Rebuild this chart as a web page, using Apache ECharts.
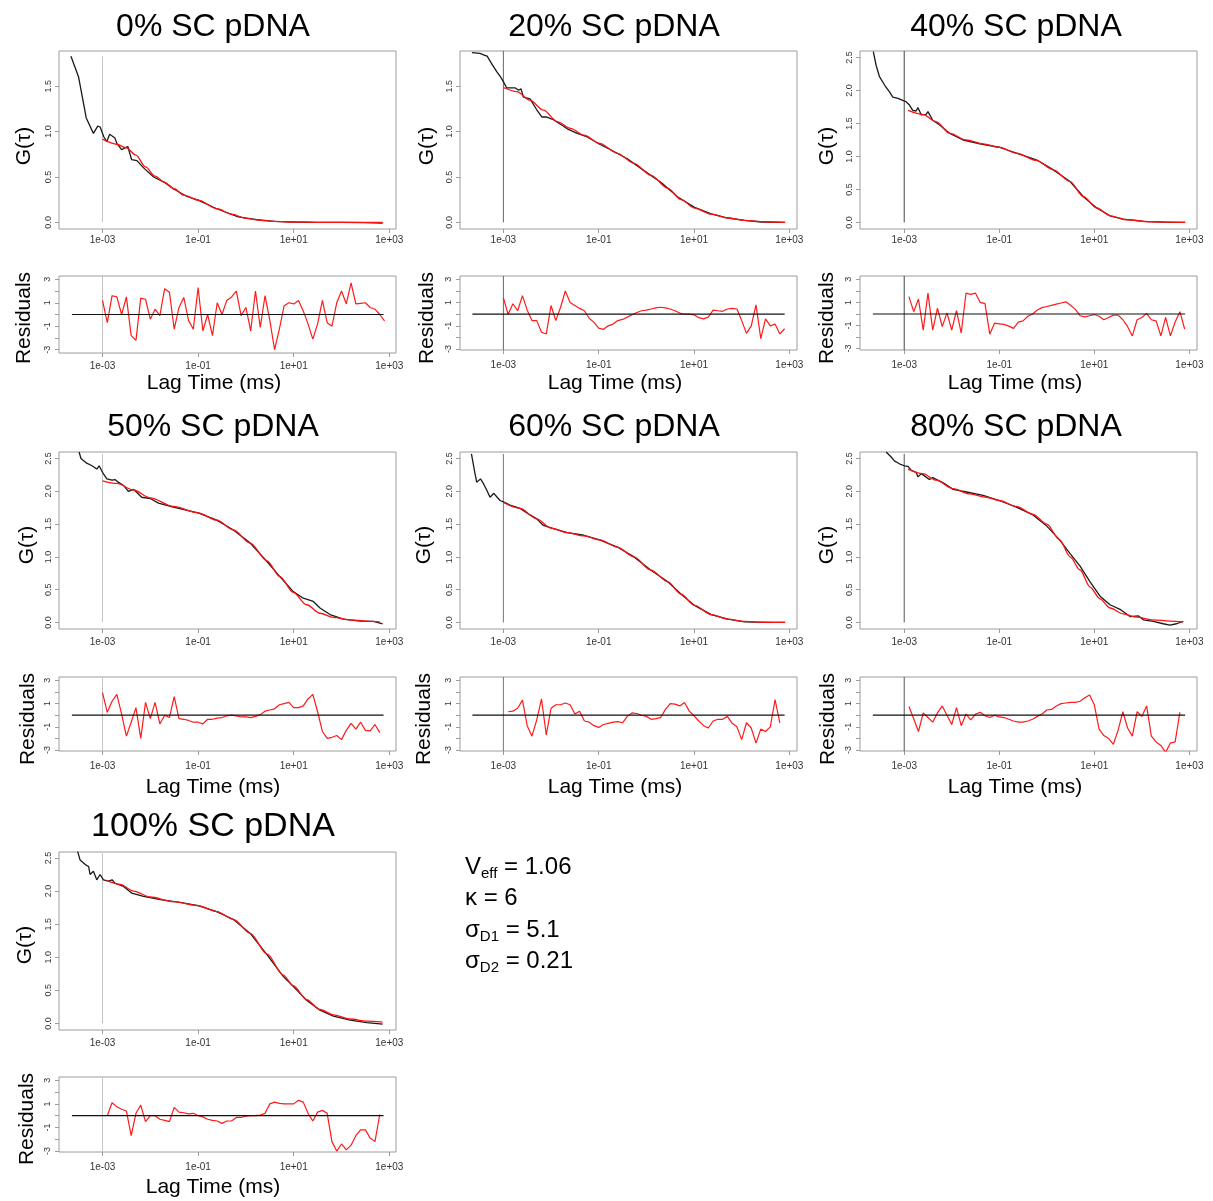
<!DOCTYPE html>
<html><head><meta charset="utf-8">
<script src="https://cdn.jsdelivr.net/npm/echarts@6/dist/echarts.min.js"></script>
<style>html,body{margin:0;padding:0;background:#fff}#c{width:1213px;height:1201px}</style>
</head><body><div id="c"></div>
<script>
const FONT = '"Liberation Sans", Arial, Helvetica, sans-serif';

// ---------- DATA ----------
const panelTitles = ['0% SC pDNA','20% SC pDNA','40% SC pDNA','50% SC pDNA','60% SC pDNA','80% SC pDNA','100% SC pDNA'];
const xTickExp = [-3,-1,1,3];            // log10 lag time of tick labels (1e-03 ... 1e+03)
const gTicksLow = [0,0.5,1,1.5];
const gTicksHigh = [0,0.5,1,1.5,2,2.5];
const residTicks = [-3,-2,-1,0,1,2,3];
const residLabels = [-3,-1,1,3];
const fitStartLag = -3;                  // vertical marker at 1e-03 ms
const vlineTop = [1.83,1.89,2.6,2.57,2.57,2.57,2.57];
const zeroStart = [-3.64,-3.65,-3.66,-3.64,-3.65,-3.66,-3.64];
const zeroEnd = [2.88,2.9,2.91,2.88,2.9,2.91,2.88];

// lag times are given as log10(ms)
const dataLag0 = [-3.66,-3.5,-3.34,-3.19,-3.1,-3.05,-2.97,-2.91,-2.85,-2.74,-2.7,-2.6,-2.53,-2.47,-2.39,-2.28,-2.14,-1.93,-1.7,-1.52,-1.25,-1.0,-0.61,-0.16,0.23,0.6,1.0,1.5,2.0,2.5,2.86];
const dataG0 = [1.83,1.6,1.15,0.98,1.06,1.05,0.94,0.89,0.97,0.93,0.87,0.8,0.82,0.835,0.69,0.68,0.6,0.5,0.44,0.37,0.29,0.245,0.15,0.06,0.03,0.012,0.004,0.001,0.0,-0.002,-0.007];
const fitLag0 = [-3.0,-2.7,-2.5,-2.3,-2.1,-1.9,-1.7,-1.5,-1.3,-1.0,-0.6,-0.3,0.0,0.3,0.6,1.0,1.5,2.0,2.5,2.86];
const fitG0 = [0.916,0.86,0.82,0.74,0.61,0.51,0.44,0.37,0.3,0.245,0.15,0.09,0.045,0.022,0.01,0.004,0.001,0,0,0];

const dataLag20 = [-3.66,-3.49,-3.39,-3.34,-3.25,-3.14,-3.07,-3.0,-2.93,-2.86,-2.75,-2.68,-2.63,-2.58,-2.44,-2.3,-2.19,-2.09,-1.95,-1.77,-1.66,-1.45,-1.24,-0.98,-0.75,-0.4,-0.05,0.31,0.66,1.01,1.36,1.71,2.06,2.41,2.91];
const dataG20 = [1.87,1.86,1.84,1.83,1.75,1.66,1.61,1.55,1.48,1.48,1.48,1.455,1.47,1.38,1.36,1.24,1.16,1.16,1.13,1.07,1.03,0.98,0.94,0.86,0.8,0.7,0.57,0.44,0.28,0.165,0.093,0.048,0.022,0.004,0.0];
const fitLag20 = [-3.0,-2.72,-2.44,-2.16,-1.87,-1.59,-1.31,-0.98,-0.61,-0.26,0.09,0.45,0.73,1.01,1.36,1.71,2.06,2.49,2.91];
const fitG20 = [1.485,1.44,1.345,1.235,1.11,1.035,0.96,0.87,0.76,0.65,0.52,0.375,0.25,0.157,0.091,0.048,0.022,0.007,0.0];

const dataLag40 = [-3.65,-3.59,-3.52,-3.41,-3.31,-3.24,-3.13,-3.03,-2.96,-2.89,-2.82,-2.75,-2.71,-2.64,-2.54,-2.5,-2.4,-2.26,-2.04,-1.76,-1.41,-1.0,-0.64,-0.22,0.13,0.49,0.77,1.05,1.33,1.61,2.03,2.45,2.91];
const dataG40 = [2.59,2.38,2.21,2.08,1.98,1.9,1.88,1.85,1.83,1.78,1.7,1.69,1.74,1.63,1.64,1.68,1.55,1.48,1.35,1.25,1.19,1.14,1.05,0.95,0.8,0.62,0.39,0.22,0.1,0.05,0.015,0.005,0.0];
const fitLag40 = [-2.92,-2.61,-2.33,-2.04,-1.69,-1.34,-1.0,-0.64,-0.22,0.13,0.49,0.77,1.05,1.33,1.68,2.17,2.91];
const fitG40 = [1.7,1.64,1.53,1.35,1.25,1.19,1.14,1.05,0.94,0.8,0.62,0.39,0.22,0.1,0.04,0.01,0.0];

const dataLag50 = [-3.49,-3.45,-3.33,-3.22,-3.12,-3.07,-3.0,-2.91,-2.8,-2.74,-2.67,-2.56,-2.46,-2.35,-2.18,-2.0,-1.83,-1.52,-1.0,-0.61,-0.26,0.09,0.44,0.71,0.99,1.2,1.41,1.55,1.76,2.04,2.39,2.67,2.86];
const dataG50 = [2.6,2.5,2.43,2.39,2.34,2.39,2.29,2.19,2.17,2.18,2.14,2.09,2.0,2.03,1.91,1.89,1.82,1.76,1.67,1.56,1.41,1.21,0.93,0.7,0.47,0.37,0.32,0.22,0.12,0.05,0.02,0.015,-0.02];
const fitLag50 = [-3.0,-2.7,-2.35,-2.0,-1.52,-1.0,-0.61,-0.26,0.09,0.44,0.71,0.99,1.27,1.55,1.83,2.18,2.53,2.8];
const fitG50 = [2.16,2.12,2.02,1.9,1.77,1.67,1.56,1.41,1.21,0.94,0.7,0.46,0.27,0.14,0.076,0.04,0.02,0.01];

const dataLag60 = [-3.67,-3.6,-3.56,-3.48,-3.42,-3.35,-3.28,-3.2,-3.13,-3.07,-3.0,-2.86,-2.65,-2.44,-2.3,-2.16,-1.95,-1.66,-1.31,-0.98,-0.61,-0.26,0.09,0.45,0.73,1.01,1.36,1.71,2.06,2.49,2.91];
const dataG60 = [2.57,2.29,2.14,2.19,2.12,2.02,1.91,1.97,1.91,1.86,1.84,1.79,1.74,1.64,1.58,1.48,1.43,1.37,1.33,1.26,1.15,1.0,0.8,0.62,0.43,0.26,0.12,0.05,0.01,0.0,0.0];
const fitLag60 = [-3.0,-2.65,-2.3,-2.0,-1.66,-1.31,-0.98,-0.61,-0.26,0.09,0.45,0.73,1.01,1.36,1.71,2.06,2.49,2.91];
const fitG60 = [1.83,1.74,1.58,1.44,1.37,1.32,1.26,1.15,1.0,0.8,0.62,0.43,0.26,0.12,0.05,0.015,0.003,0.0];

const dataLag80 = [-3.38,-3.27,-3.2,-3.1,-3.0,-2.92,-2.85,-2.75,-2.71,-2.64,-2.47,-2.4,-2.18,-1.97,-1.69,-1.34,-1.0,-0.64,-0.29,0.0,0.27,0.49,0.7,0.91,1.12,1.33,1.54,1.75,1.93,2.03,2.24,2.45,2.59,2.73,2.87];
const dataG80 = [2.6,2.52,2.46,2.42,2.39,2.38,2.32,2.29,2.22,2.27,2.18,2.21,2.13,2.03,1.99,1.94,1.86,1.76,1.64,1.47,1.26,1.05,0.86,0.62,0.4,0.27,0.2,0.09,0.1,0.04,0.015,-0.02,-0.04,-0.02,0.015];
const fitLag80 = [-2.92,-2.61,-2.33,-1.97,-1.62,-1.27,-1.0,-0.64,-0.29,0.0,0.27,0.49,0.7,0.91,1.12,1.33,1.61,1.89,2.24,2.59,2.87];
const fitG80 = [2.34,2.27,2.17,2.04,1.96,1.91,1.86,1.77,1.65,1.5,1.26,1.0,0.8,0.54,0.36,0.22,0.13,0.08,0.04,0.02,0.01];

const dataLag100 = [-3.52,-3.47,-3.36,-3.29,-3.26,-3.19,-3.12,-3.05,-2.98,-2.87,-2.8,-2.74,-2.56,-2.39,-2.14,-1.79,-1.38,-1.0,-0.61,-0.26,0.09,0.44,0.78,0.99,1.27,1.55,1.83,2.18,2.53,2.86];
const dataG100 = [2.6,2.47,2.4,2.37,2.25,2.3,2.17,2.25,2.17,2.15,2.17,2.12,2.07,1.97,1.92,1.87,1.83,1.78,1.69,1.57,1.36,1.04,0.71,0.56,0.35,0.2,0.11,0.05,0.01,-0.01];
const fitLag100 = [-2.92,-2.63,-2.35,-2.0,-1.52,-1.0,-0.61,-0.26,0.09,0.44,0.78,0.99,1.27,1.55,1.83,2.18,2.53,2.86];
const fitG100 = [2.16,2.1,2.0,1.91,1.84,1.78,1.69,1.57,1.36,1.05,0.73,0.57,0.36,0.21,0.13,0.066,0.035,0.02];

const residLag = [-3.0,-2.9,-2.8,-2.7,-2.6,-2.5,-2.4,-2.3,-2.2,-2.1,-2.0,-1.9,-1.8,-1.7,-1.6,-1.5,-1.4,-1.3,-1.2,-1.1,-1.0,-0.9,-0.8,-0.7,-0.6,-0.5,-0.4,-0.3,-0.2,-0.1,0.0,0.1,0.2,0.3,0.4,0.5,0.6,0.7,0.8,0.9,1.0,1.1,1.2,1.3,1.4,1.5,1.6,1.7,1.8,1.9,2.0,2.1,2.2,2.3,2.4,2.5,2.6,2.7,2.8,2.9];
const resid0 = [1.2,-0.7,1.6,1.5,0.0,1.5,-1.8,-2.2,1.4,1.3,-0.4,0.45,-0.1,2.2,1.9,-1.25,0.6,1.45,-0.5,-1.25,2.3,-1.4,0.0,-1.8,1.0,0.0,1.2,1.5,2.0,-0.1,0.6,-1.4,2.0,-1.1,1.6,-0.5,-3.0,-1.25,0.75,1.0,0.9,1.2,0.3,-0.8,-2.1,-0.8,1.2,-0.7,-1.0,1.0,2.0,0.9,2.7,0.9,0.95,1.0,0.6,0.45,0.0,-0.55];
const resid20 = [1.4,0.0,0.9,0.3,1.6,0.35,-0.55,-0.55,-1.55,-1.7,0.75,-0.55,0.6,2.0,1.0,0.75,0.5,0.3,-0.35,-0.7,-1.2,-1.3,-1.0,-0.85,-0.55,-0.45,-0.25,-0.05,0.15,0.3,0.35,0.45,0.55,0.6,0.55,0.45,0.3,0.1,0.0,0.0,-0.05,-0.3,-0.4,-0.25,0.35,0.3,0.25,0.45,0.5,0.45,-0.55,-1.65,-1.0,0.8,-2.1,-0.4,-1.0,-0.85,-1.7,-1.25];
const resid40 = [null,1.5,0.2,1.3,-1.4,1.8,-1.4,0.5,-1.1,0.1,-1.4,0.3,-1.65,1.8,1.7,1.8,1.0,0.9,-1.75,-0.8,-0.85,-0.9,-1.05,-1.25,-0.7,-0.6,-0.2,0.0,0.35,0.55,0.65,0.75,0.85,0.95,1.05,0.75,0.4,-0.15,-0.25,-0.15,-0.05,-0.2,-0.5,-0.3,-0.1,-0.1,-0.5,-1.1,-1.9,-0.5,-0.3,0.05,-0.5,-0.6,-1.9,-0.3,-1.9,-0.7,0.2,-1.3];
const resid50 = [1.95,0.25,1.2,1.8,0.1,-1.8,-0.6,0.65,-2.0,1.1,-0.3,1.1,-0.75,0.0,-0.2,1.6,-0.3,-0.35,-0.45,-0.6,-0.6,-0.75,-0.35,-0.35,-0.25,-0.2,-0.05,0.0,-0.05,-0.15,-0.15,-0.2,-0.1,0.05,0.35,0.45,0.55,0.9,1.0,1.1,0.65,0.65,0.8,1.4,1.8,0.3,-1.4,-2.0,-1.9,-1.75,-2.1,-1.3,-0.7,-1.2,-0.6,-1.3,-1.35,-0.8,-1.5,null];
const resid60 = [null,0.3,0.35,0.6,1.3,-0.9,-1.8,-0.4,1.4,-1.7,0.6,0.9,0.9,1.05,0.9,0.1,0.35,-0.5,-0.6,-0.9,-1.05,-0.8,-0.7,-0.6,-0.55,-0.65,-0.1,0.2,0.15,0.0,-0.1,-0.35,-0.3,-0.2,0.5,1.0,0.95,0.8,1.1,0.35,-0.05,-0.5,-0.9,-1.1,-0.5,-0.35,-0.35,-0.1,-0.7,-1.0,-2.1,-0.65,-1.1,-2.4,-1.2,-1.4,-1.0,1.35,-0.65,null];
const resid80 = [null,0.75,-0.3,-1.4,0.2,-0.2,-0.6,0.2,0.8,0.0,-0.8,0.65,-0.9,0.1,-0.4,0.1,0.25,-0.05,-0.2,0.0,-0.15,-0.2,-0.35,-0.5,-0.6,-0.6,-0.5,-0.35,-0.1,0.1,0.45,0.5,0.8,1.0,1.05,1.1,1.1,1.2,1.5,1.75,0.9,-1.2,-1.75,-2.0,-2.5,-1.3,0.3,-1.1,-1.8,0.3,-0.1,0.8,-1.8,-2.3,-2.6,-3.2,-2.4,-2.3,0.25,null];
const resid100 = [null,0.0,1.1,0.75,0.55,0.4,-1.7,0.2,0.9,-0.5,0.0,0.0,-0.3,-0.4,-0.5,0.7,0.3,0.25,0.15,0.2,0.0,-0.1,-0.3,-0.4,-0.45,-0.65,-0.45,-0.45,-0.15,-0.15,-0.05,0.0,0.0,0.05,0.2,1.0,1.15,1.05,1.0,1.0,1.0,1.3,1.15,0.2,-0.45,0.3,0.45,0.2,-2.2,-3.0,-2.4,-2.9,-2.5,-1.7,-1.2,-1.2,-1.9,-2.2,0.1,null];

const paramLines = [
  ['V','eff',' = 1.06'],
  ['κ','',' = 6'],
  ['σ','D1',' = 5.1'],
  ['σ','D2',' = 0.21']
];

// ---------- LAYOUT ----------
const colLeft = [59, 460, 860];
const colWidth = 337;
const colXRange = [[-3.91,3.14],[-3.91,3.16],[-3.93,3.16]];
const layout = [
  {col:0, mT:51,  mH:178, rT:276,  rH:77, gMin:-0.073, gMax:1.887, gT:gTicksLow,  rMin:-3.28, rMax:3.28, xm:6, rxm:8,  tx:213, ty:27,  ts:32, gx:24,  gy:146, rx:24,  ry:318,  lx:214, ly:383,  vc:'#c4c4c4'},
  {col:1, mT:51,  mH:178, rT:276,  rH:74, gMin:-0.073, gMax:1.887, gT:gTicksLow,  rMin:-3.08, rMax:3.29, xm:6, rxm:10, tx:614, ty:27,  ts:32, gx:427, gy:146, rx:427, ry:318,  lx:615, ly:383,  vc:'#666'},
  {col:2, mT:51,  mH:178, rT:276,  rH:74, gMin:-0.10,  gMax:2.60,  gT:gTicksHigh, rMin:-3.12, rMax:3.29, xm:6, rxm:10, tx:1016,ty:27,  ts:32, gx:827, gy:146, rx:827, ry:318,  lx:1015,ly:383,  vc:'#444'},
  {col:0, mT:452, mH:177, rT:677,  rH:74, gMin:-0.10,  gMax:2.60,  gT:gTicksHigh, rMin:-3.08, rMax:3.29, xm:8, rxm:10, tx:213, ty:427, ts:32, gx:27,  gy:545, rx:28,  ry:719,  lx:213, ly:787,  vc:'#c4c4c4'},
  {col:1, mT:452, mH:177, rT:677,  rH:74, gMin:-0.10,  gMax:2.60,  gT:gTicksHigh, rMin:-3.08, rMax:3.29, xm:8, rxm:10, tx:614, ty:427, ts:32, gx:424, gy:545, rx:424, ry:719,  lx:615, ly:787,  vc:'#777'},
  {col:2, mT:452, mH:177, rT:677,  rH:74, gMin:-0.10,  gMax:2.60,  gT:gTicksHigh, rMin:-3.08, rMax:3.29, xm:8, rxm:10, tx:1016,ty:427, ts:32, gx:827, gy:545, rx:828, ry:719,  lx:1015,ly:787,  vc:'#555'},
  {col:0, mT:852, mH:178, rT:1077, rH:75, gMin:-0.10,  gMax:2.59,  gT:gTicksHigh, rMin:-3.08, rMax:3.28, xm:8, rxm:10, tx:213, ty:827, ts:34, gx:25,  gy:945, rx:27,  ry:1119, lx:213, ly:1187, vc:'#c4c4c4'}
];

const dataLags = [dataLag0,dataLag20,dataLag40,dataLag50,dataLag60,dataLag80,dataLag100];
const dataGs = [dataG0,dataG20,dataG40,dataG50,dataG60,dataG80,dataG100];
const fitLags = [fitLag0,fitLag20,fitLag40,fitLag50,fitLag60,fitLag80,fitLag100];
const fitGs = [fitG0,fitG20,fitG40,fitG50,fitG60,fitG80,fitG100];
const resids = [resid0,resid20,resid40,resid50,resid60,resid80,resid100];

const zip = (xs, ys) => xs.map((x, i) => [x, ys[i]]);
const expLabel = v => '1e' + (v < 0 ? '-' : '+') + String(Math.abs(v)).padStart(2, '0');
const BOX = '#9c9c9c';
const LABEL = '#333';

const grid = [], xAxis = [], yAxis = [], series = [], graphic = [];

layout.forEach((L, i) => {
  const left = colLeft[L.col];
  const xr = colXRange[L.col];
  const gi = grid.length;
  grid.push({left, top: L.mT, width: colWidth, height: L.mH, show: true, borderColor: BOX, borderWidth: 1});
  grid.push({left, top: L.rT, width: colWidth, height: L.rH, show: true, borderColor: BOX, borderWidth: 1});
  [0, 1].forEach(k => {
    xAxis.push({
      type: 'value', gridIndex: gi + k, min: xr[0], max: xr[1], position: 'bottom',
      axisLine: {show: false, onZero: false}, splitLine: {show: false},
      axisTick: {show: true, length: 4, customValues: xTickExp, lineStyle: {color: BOX}},
      axisLabel: {customValues: xTickExp, formatter: expLabel, fontSize: 10, color: LABEL,
                  margin: k === 0 ? L.xm : L.rxm, fontFamily: FONT}
    });
  });
  yAxis.push({
    type: 'value', gridIndex: gi, min: L.gMin, max: L.gMax, position: 'left',
    axisLine: {show: false, onZero: false}, splitLine: {show: false},
    axisTick: {show: true, length: 4, customValues: L.gT, lineStyle: {color: BOX}},
    axisLabel: {customValues: L.gT, formatter: v => v.toFixed(1), rotate: 90, fontSize: 9, color: LABEL, margin: 6, fontFamily: FONT}
  });
  yAxis.push({
    type: 'value', gridIndex: gi + 1, min: L.rMin, max: L.rMax, position: 'left',
    axisLine: {show: false, onZero: false}, splitLine: {show: false},
    axisTick: {show: true, length: 4, customValues: residTicks, lineStyle: {color: BOX}},
    axisLabel: {customValues: residLabels, formatter: v => String(v), rotate: 90, fontSize: 9, color: LABEL, margin: 7, fontFamily: FONT}
  });

  const base = {type: 'line', showSymbol: false, silent: true, animation: false};
  series.push(Object.assign({}, base, {xAxisIndex: gi, yAxisIndex: gi,
    data: [[fitStartLag, 0], [fitStartLag, vlineTop[i]]], lineStyle: {color: L.vc, width: 1}}));
  series.push(Object.assign({}, base, {xAxisIndex: gi, yAxisIndex: gi,
    data: zip(dataLags[i], dataGs[i]), lineStyle: {color: '#1a1a1a', width: 1.3}}));
  series.push(Object.assign({}, base, {xAxisIndex: gi, yAxisIndex: gi, smooth: 0.3, smoothMonotone: 'x',
    data: zip(fitLags[i], fitGs[i]), lineStyle: {color: '#ff1010', width: 1.3}}));
  series.push(Object.assign({}, base, {xAxisIndex: gi + 1, yAxisIndex: gi + 1,
    data: [[fitStartLag, L.rMin], [fitStartLag, L.rMax]], lineStyle: {color: L.vc, width: 1}}));
  series.push(Object.assign({}, base, {xAxisIndex: gi + 1, yAxisIndex: gi + 1, connectNulls: false,
    data: zip(residLag, resids[i]), lineStyle: {color: '#ff1a1a', width: 1.2}}));
  series.push(Object.assign({}, base, {xAxisIndex: gi + 1, yAxisIndex: gi + 1,
    data: [[zeroStart[i], 0], [zeroEnd[i], 0]], lineStyle: {color: '#111', width: 1.2}}));

  graphic.push({type: 'text', x: L.tx, y: L.ty, silent: true,
    style: {text: panelTitles[i], fontSize: L.ts, fontFamily: FONT, fill: '#000', align: 'center', verticalAlign: 'middle'}});
  graphic.push({type: 'text', x: L.gx, y: L.gy, rotation: Math.PI / 2, silent: true,
    style: {text: 'G(τ)', fontSize: 21, fontFamily: FONT, fill: '#000', align: 'center', verticalAlign: 'middle'}});
  graphic.push({type: 'text', x: L.rx, y: L.ry, rotation: Math.PI / 2, silent: true,
    style: {text: 'Residuals', fontSize: 21, fontFamily: FONT, fill: '#000', align: 'center', verticalAlign: 'middle'}});
  graphic.push({type: 'text', x: L.lx, y: L.ly, silent: true,
    style: {text: 'Lag Time (ms)', fontSize: 21, fontFamily: FONT, fill: '#000', align: 'center', verticalAlign: 'middle'}});
});

paramLines.forEach((p, j) => {
  const txt = '{n|' + p[0] + '}' + (p[1] ? '{s|' + p[1] + '}' : '') + '{n|' + p[2] + '}';
  graphic.push({type: 'text', x: 465, y: 867 + j * 31.5, silent: true,
    style: {text: txt, fontFamily: FONT, fill: '#000', align: 'left', verticalAlign: 'middle',
      rich: {
        n: {fontSize: 24, lineHeight: 28, fontFamily: FONT, fill: '#000'},
        s: {fontSize: 15, lineHeight: 15, fontFamily: FONT, fill: '#000', verticalAlign: 'bottom'}
      }}});
});

const chart = echarts.init(document.getElementById('c'), null, {renderer: 'canvas'});
chart.setOption({
  backgroundColor: '#fff',
  animation: false,
  textStyle: {fontFamily: FONT},
  grid, xAxis, yAxis, series, graphic
});
</script>
</body></html>
